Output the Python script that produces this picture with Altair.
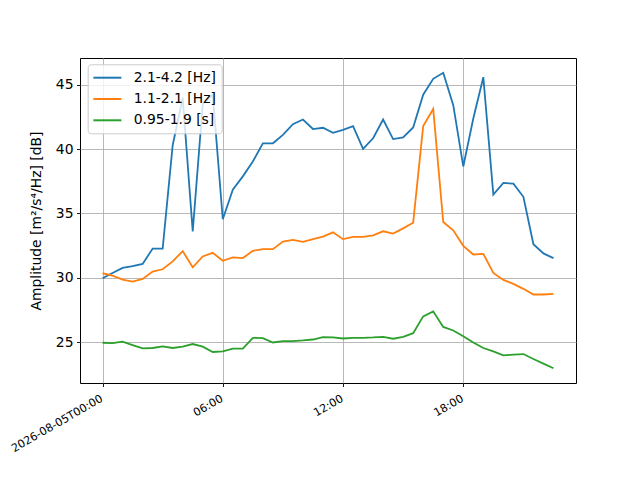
import altair as alt
import pandas as pd

# ---- data (30-minute samples from 2026-08-05T00:00) ----
start = "2026-08-05T00:00"
n_points = 46

series_names = ["2.1-4.2 [Hz]", "1.1-2.1 [Hz]", "0.95-1.9 [s]"]
series_colors = ["#1f77b4", "#ff7f0e", "#2ca02c"]

band_21_42 = [
    29.96, 30.37, 30.76, 30.90, 31.07, 32.27, 32.27, 40.30, 43.97, 33.60,
    43.50, 44.23, 34.55, 36.85, 37.88, 39.04, 40.45, 40.45, 41.10, 41.94,
    42.30, 41.56, 41.66, 41.27, 41.50, 41.79, 40.01, 40.84, 42.30, 40.78,
    40.91, 41.68, 44.23, 45.46, 45.93, 43.41, 38.65, 42.38, 45.59, 36.47,
    37.37, 37.31, 36.29, 32.61, 31.89, 31.53,
]
band_11_21 = [
    30.35, 30.17, 29.86, 29.70, 29.91, 30.48, 30.66, 31.27, 32.07, 30.81,
    31.66, 31.94, 31.32, 31.58, 31.53, 32.09, 32.22, 32.22, 32.81, 32.94,
    32.79, 33.00, 33.20, 33.53, 33.00, 33.17, 33.17, 33.30, 33.61, 33.43,
    33.84, 34.28, 41.79, 43.12, 34.33, 33.69, 32.48, 31.81, 31.86, 30.37,
    29.83, 29.52, 29.14, 28.70, 28.70, 28.75,
]
band_095_19 = [
    24.95, 24.92, 25.03, 24.77, 24.51, 24.54, 24.67, 24.54, 24.64, 24.85,
    24.64, 24.23, 24.28, 24.49, 24.49, 25.33, 25.31, 24.97, 25.08, 25.08,
    25.13, 25.20, 25.39, 25.36, 25.28, 25.33, 25.33, 25.36, 25.41, 25.26,
    25.41, 25.69, 27.00, 27.39, 26.18, 25.90, 25.46, 24.97, 24.54, 24.28,
    23.97, 24.02, 24.07, 23.69, 23.33, 22.97,
]

x_tick_times = ["2026-08-05T00:00", "2026-08-05T06:00", "2026-08-05T12:00", "2026-08-05T18:00"]
x_tick_labels = ["2026-08-05T00:00", "06:00", "12:00", "18:00"]
y_ticks = [25, 30, 35, 40, 45]
y_domain = [21.82, 47.08]
x_domain = ["2026-08-04T22:52:30", "2026-08-05T23:37:30"]

# ---- build table ----
times = pd.date_range(start, periods=n_points, freq="30min")
time_str = [t.strftime("%Y-%m-%dT%H:%M:%SZ") for t in times]
rows = []
for name, vals in zip(series_names, [band_21_42, band_11_21, band_095_19]):
    for t, v in zip(time_str, vals):
        rows.append({"time": t, "value": v, "band": name})
df = pd.DataFrame(rows)


def to_ms(s):
    return int(pd.Timestamp(s, tz="UTC").value // 1_000_000)


tick_ms = [to_ms(s) for s in x_tick_times]
label_expr = "''"
for ms, lab in reversed(list(zip(tick_ms, x_tick_labels))):
    label_expr = f"time(datum.value) == {ms} ? '{lab}' : ({label_expr})"

font = "DejaVu Sans"

chart = (
    alt.Chart(df)
    .mark_line(strokeWidth=1.8)
    .encode(
        x=alt.X(
            "time:T",
            scale=alt.Scale(type="utc", domain=[to_ms(x_domain[0]), to_ms(x_domain[1])], nice=False),
            axis=alt.Axis(
                title=None,
                values=tick_ms,
                labelExpr=label_expr,
                labelAngle=330,
                labelAlign="right",
                labelBaseline="top",
                labelOffset=-4,
                labelPadding=6,
                labelFontSize=11.1,
            ),
        ),
        y=alt.Y(
            "value:Q",
            scale=alt.Scale(domain=y_domain, nice=False, zero=False),
            axis=alt.Axis(
                title="Amplitude [m²/s⁴/Hz] [dB]",
                values=y_ticks,
                titlePadding=12,
            ),
        ),
        color=alt.Color(
            "band:N",
            sort=series_names,
            scale=alt.Scale(domain=series_names, range=series_colors),
            legend=alt.Legend(
                title=None,
                orient="none",
                legendX=7.7,
                legendY=6.3,
                symbolType="M-1.1,0H2.9",
                symbolSize=196,
                symbolStrokeWidth=2,
                symbolFillColor="transparent",
                rowPadding=6.3,
                labelOffset=24.6,
                labelFontSize=13.9,
                labelFont=font,
                labelColor="black",
                padding=5.4,
                fillColor="rgba(255,255,255,0.8)",
                strokeColor="#cccccc",
                cornerRadius=3,
            ),
        ),
    )
    .properties(
        width=496,
        height=325,
        autosize="none",
        background="white",
        padding={"left": 72, "top": 50, "right": 56, "bottom": 89},
    )
    .configure_view(stroke="black", strokeWidth=1)
    .configure_axis(
        grid=True,
        gridColor="#b0b0b0",
        gridWidth=0.9,
        domain=False,
        tickColor="black",
        tickSize=3.5,
        tickWidth=0.9,
        labelColor="black",
        labelFont=font,
        labelFontSize=13.9,
        labelPadding=3.5,
        titleFont=font,
        titleFontSize=13.9,
        titleFontWeight="normal",
        titleColor="black",
    )
)

chart.save("out.html", embed_options={"renderer": "svg", "actions": False})
